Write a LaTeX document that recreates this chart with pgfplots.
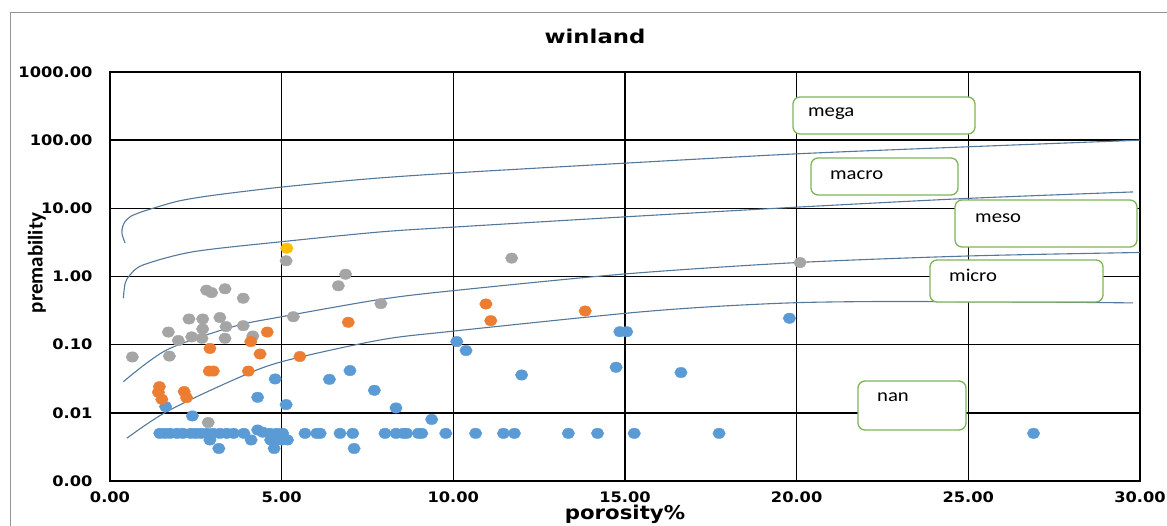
\documentclass[border=0pt]{standalone}
\usepackage{fontspec}
\setmainfont{DejaVu Sans}
\newfontfamily\tickfont[FakeStretch=1.12]{DejaVu Sans}
\newfontfamily\titlefont[FakeStretch=1.2]{DejaVu Sans}
\newfontfamily\boxfont[FakeStretch=1.15]{Carlito}
\newfontfamily\ylabfont{Carlito}
\usepackage{pgfplots}
\pgfplotsset{compat=1.18}
\definecolor{cblue}{RGB}{91,155,213}
\definecolor{corange}{RGB}{237,125,49}
\definecolor{cgray}{RGB}{165,165,165}
\definecolor{cyellow}{RGB}{255,192,0}
\definecolor{cline}{RGB}{84,120,156}
\definecolor{cgreen}{RGB}{125,180,90}
\begin{document}
\begin{tikzpicture}[x=1pt,y=1pt]
\useasboundingbox (0,0) rectangle (1167,526);
\draw[gray!85, line width=1.5pt] (10.5,-5) -- (10.5,513.5) -- (1172,513.5);
\begin{axis}[
  at={(110pt,45pt)}, anchor=south west,
  scale only axis, width=1030pt, height=409pt,
  xmin=0, xmax=30, ymode=log, ymin=0.001, ymax=1000,
  xtick={0,5,10,15,20,25,30},
  xticklabels={0.00,5.00,10.00,15.00,20.00,25.00,30.00},
  ytick={0.001,0.01,0.1,1,10,100,1000},
  yticklabels={0.00,0.01,0.10,1.00,10.00,100.00,1000.00},
  yminorticks=false, xminorticks=false,
  grid=major, major grid style={black, line width=1.6pt},
  axis line style={black, line width=1.6pt},
  major tick length=0pt,
  ticklabel style={font=\tickfont\bfseries\fontsize{14.5}{16}\selectfont},
  yticklabel style={xshift=-14pt},
  xticklabel style={yshift=-7pt},
  clip=true,
]
% blue
\addplot[only marks, mark=*, mark size=5.2pt, mark options={draw=cblue, fill=cblue, xscale=1.2}] coordinates {
(1.62,0.0123) (2.40,0.009) (4.30,0.0169) (4.81,0.0314) (5.13,0.0132) (6.39,0.031) (6.99,0.0417) (7.70,0.0214) (8.33,0.0118) (9.37,0.008)
(10.1,0.111) (10.37,0.082) (11.99,0.0359) (14.74,0.0466) (14.85,0.155) (15.05,0.155) (16.63,0.039) (19.79,0.244) (26.9,0.005)
(1.45,0.005) (1.6,0.005) (1.75,0.005) (1.95,0.005) (2.12,0.005) (2.35,0.005) (2.5,0.005) (2.65,0.005) (2.82,0.005) (3.0,0.005)
(3.2,0.005) (3.4,0.005) (3.6,0.005) (3.9,0.005) (4.3,0.0056) (4.45,0.0052) (4.66,0.005) (4.86,0.005) (5.03,0.005) (5.68,0.005)
(6.02,0.005) (6.12,0.005) (6.70,0.005) (7.07,0.005) (8.01,0.005) (8.33,0.005) (8.54,0.005) (8.64,0.005) (8.98,0.005) (9.08,0.005)
(9.78,0.005) (10.65,0.005) (11.46,0.005) (11.78,0.005) (13.35,0.005) (14.2,0.005) (15.27,0.005) (17.74,0.005)
(2.91,0.004) (4.11,0.004) (4.68,0.004) (4.86,0.004) (5.0,0.004) (5.17,0.004)
(3.17,0.003) (4.78,0.003) (7.11,0.003)
};
% gray
\addplot[only marks, mark=*, mark size=5.2pt, mark options={draw=cgray, fill=cgray, xscale=1.2}] coordinates {
(0.65,0.066) (1.73,0.068) (1.70,0.153) (1.99,0.115) (2.30,0.238) (2.70,0.238) (2.38,0.13) (2.70,0.17) (2.68,0.124) (2.81,0.63)
(2.96,0.58) (3.35,0.66) (3.20,0.25) (3.38,0.184) (3.35,0.124) (3.88,0.48) (3.88,0.19) (4.16,0.134) (5.34,0.257) (5.13,1.7)
(6.65,0.73) (6.86,1.08) (7.89,0.40) (11.7,1.86) (20.1,1.6) (2.86,0.0072)
};
% orange
\addplot[only marks, mark=*, mark size=5.2pt, mark options={draw=corange, fill=corange, xscale=1.2}] coordinates {
(1.44,0.0242) (1.41,0.02) (1.51,0.0158) (2.16,0.0205) (2.23,0.0167) (2.89,0.041) (3.01,0.041) (4.03,0.041) (2.91,0.088)
(4.37,0.073) (4.10,0.111) (4.58,0.153) (5.53,0.067) (6.94,0.213) (10.95,0.395) (11.09,0.225) (13.84,0.312)
};
% yellow
\addplot[only marks, mark=*, mark size=5.2pt, mark options={draw=cyellow, fill=cyellow, xscale=1.2}] coordinates {
(5.15,2.6)
};
% boundary curves
\addplot[cline, line width=1.1pt, smooth, tension=0.5] coordinates {
(0.44,3.1) (0.36,4.0) (0.35,4.9) (0.42,6.2) (0.6,7.6) (0.9,8.8) (1.25,10) (2,12.8) (3,15.5) (5,20.5) (7.5,27) (10,33) (15,46) (20,63) (25,80) (30,100)
};
\addplot[cline, line width=1.1pt, smooth, tension=0.5] coordinates {
(0.39,0.48) (0.44,0.79) (0.58,1.05) (0.97,1.48) (2.43,2.31) (5,3.24) (7.86,4.5) (10,5.3) (15,7.5) (20,10.4) (25,14) (29.8,17.4)
};
\addplot[cline, line width=1.1pt, smooth, tension=0.5] coordinates {
(0.39,0.0286) (1.65,0.0836) (3.59,0.184) (5,0.257) (7.86,0.46) (10,0.62) (15,1.09) (20,1.6) (25,2.0) (30,2.25)
};
\addplot[cline, line width=1.1pt, smooth, tension=0.5] coordinates {
(0.49,0.00424) (1.65,0.0104) (3.59,0.0303) (5,0.0562) (7.86,0.117) (10,0.158) (15,0.288) (17.5,0.36) (20,0.413) (22.5,0.43) (25,0.426) (27.5,0.42) (29.8,0.41)
};
\end{axis}
% labels
\node[anchor=base, font=\titlefont\bfseries\fontsize{19}{22}\selectfont] at (595,482) {winland};
\node[rotate=90, font=\ylabfont\bfseries\fontsize{21}{23}\selectfont] at (37,263) {premability};
\node[anchor=base, inner sep=0pt, font=\tickfont\bfseries\fontsize{19}{21}\selectfont] at (625,6) {porosity\%};
% category boxes
\tikzset{catbox/.style={draw=cgreen, line width=1.3pt, fill=white, rounded corners=7pt}}
\tikzset{cattext/.style={anchor=base west, inner sep=0pt, font=\boxfont\fontsize{18}{20}\selectfont}}
\draw[catbox] (793,392) rectangle (975,429);
\node[cattext] at (808,409.8) {mega};
\draw[catbox] (811,331) rectangle (958,368);
\node[cattext] at (830,346.8) {macro};
\draw[catbox] (955,279) rectangle (1137,326);
\node[cattext] at (975,303.8) {meso};
\draw[catbox] (930,224) rectangle (1103,266);
\node[cattext] at (949,244.8) {micro};
\draw[catbox] (858,96) rectangle (966,145);
\node[cattext] at (877,124.8) {nan};
\end{tikzpicture}
\end{document}
